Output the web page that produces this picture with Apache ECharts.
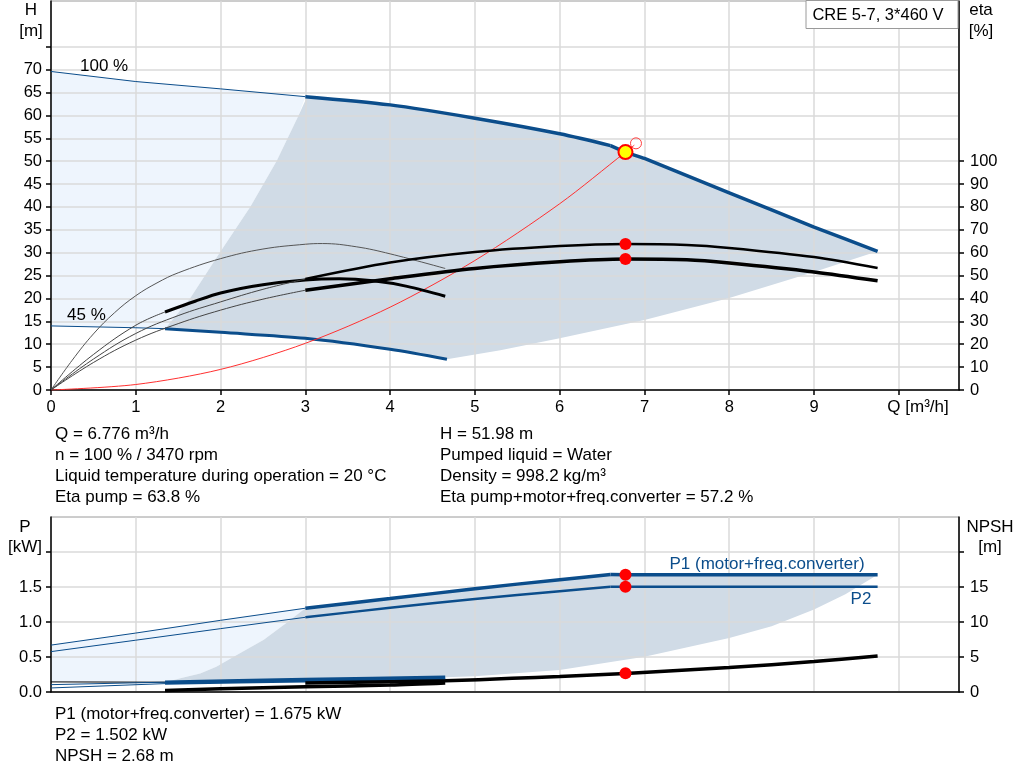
<!DOCTYPE html>
<html><head><meta charset="utf-8">
<script src="https://cdn.jsdelivr.net/npm/echarts@6.0.0/dist/echarts.min.js"></script>
<style>html,body{margin:0;padding:0;background:#fff}#c{width:1024px;height:781px}</style>
</head><body><div id="c"></div>
<script>
// ===== DATA (Q in m³/h) =====
const qTicks = [0,1,2,3,4,5,6,7,8,9];
// Head [m]
const h100Ext = [[0,69.6],[1,67.4],[2,65.8],[3,64.1]];
const h100 = [[3,64.1],[4,62.3],[5,59.4],[6,56.0],[6.6,53.4]];
const h100Lim = [[6.6,53.4],[6.776,51.98],[7,50.6],[8,43.1],[9,35.6],[9.75,30.3]];
const h45Ext = [[0,14.0],[1,13.6],[1.345,13.4]];
const h45 = [[1.345,13.4],[2,12.6],[3,11.3],[4,8.9],[4.67,6.7]];
const hAreaLeft = [[1.345,13.4],[1.64,20],[1.99,30],[2.35,40],[2.66,50],[2.92,60],[3.02,64.1]];
const hAreaLow = [[4.67,6.7],[5.3,8.7],[6,11.3],[7,15.3],[8,20.1],[9,25.8],[9.75,30.3]];
const system = [[0,0],[1,1.2],[2,4.5],[3,10.2],[4,18.1],[5,28.3],[6,40.7],[6.776,51.98],[6.88,53.5]];
// Efficiency [%]
const etaPump100Ext = [[0,0],[0.5,13.5],[1,24.7],[1.5,32.5],[2,38.5],[2.5,44],[3,48.5]];
const etaPump100 = [[3,48.5],[4,55.7],[5,60.3],[6,62.9],[6.776,63.8],[7.5,63.4],[8,62.1],[9,58.1],[9.75,53.3]];
const etaTot100Ext = [[0,0],[0.5,12],[1,21.8],[1.5,29],[2,34.9],[2.5,39.7],[3,43.6]];
const etaTot100 = [[3,43.6],[4,48.6],[5,53.1],[6,56.0],[6.776,57.2],[7.5,56.9],[8,55.5],[9,51.6],[9.75,47.7]];
const etaPump45 = [[0,0],[0.25,13],[0.5,24.5],[0.75,33.8],[1,41.2],[1.25,46.8],[1.5,51.2],[2,57.4],[2.5,61.6],[3,63.7],[3.2,64.0],[3.6,62.6],[4,59.5],[4.65,53.1]];
const etaTot45Ext = [[0,0],[0.5,15.5],[1,28.3],[1.345,34.1]];
const etaTot45 = [[1.345,34.1],[1.7,38.8],[2,42.4],[2.5,46.0],[3,48.1],[3.4,48.6],[3.8,47.7],[4.2,45.3],[4.65,41.0]];
// Power [kW]
const p1Ext = [[0,0.67],[1,0.842],[2,1.024],[3,1.197]];
const p1 = [[3,1.197],[4,1.335],[5,1.475],[6,1.605],[6.6,1.677]];
const p1Lim = [[6.6,1.677],[6.776,1.675],[9.75,1.675]];
const p2Ext = [[0,0.577],[1,0.74],[2,0.905],[3,1.067]];
const p2 = [[3,1.067],[4,1.203],[5,1.33],[6,1.44],[6.6,1.502]];
const p2Lim = [[6.6,1.502],[6.776,1.502],[9.75,1.502]];
const p1_45Ext = [[0,0.105],[1.345,0.14]];
const p1_45 = [[1.345,0.14],[3,0.178],[4.65,0.21]];
const p2_45Ext = [[0,0.058],[1.345,0.12]];
const p2_45 = [[1.345,0.12],[3,0.155],[4.65,0.185]];
const pLightBase = [[0,0.144],[1.345,0.14]];
const pAreaLeft = [[1.345,0.14],[1.55,0.205],[1.76,0.265],[1.95,0.36],[2.15,0.5],[2.51,0.745],[2.78,0.99],[3,1.197]];
const pAreaLow = [[4.65,0.21],[5,0.225],[6,0.313],[7,0.505],[8,0.77],[8.5,0.94],[9,1.178],[9.37,1.395],[9.75,1.675]];
// NPSH [m]
const npsh100 = [[3,1.3],[4,1.48],[4.65,1.6],[5.44,1.95],[6,2.2],[6.776,2.65],[8,3.5],[9,4.35],[9.75,5.15]];
const npsh45 = [[1.345,0.23],[2,0.45],[3,0.75],[4,1.0],[4.65,1.3]];
// Duty point
const duty = {q:6.776, h:51.98, etaPump:63.8, etaTot:57.2, p1:1.675, p2:1.502, npsh:2.68};
const dutyOpen = [[6.9,53.9]];

// ===== STYLE =====
const BLUE = '#0b4d8b', DARK = '#d0dbe6', LIGHT = '#eef5fd', GRIDC = '#dadada';
const FONT = 'Liberation Sans, Arial, sans-serif';
const FS = 17, FSA = 16.5;

const rev = a => a.slice().reverse();
const topLight = [...h100Ext, ...rev(hAreaLeft).slice(1), ...rev(h45Ext).slice(1)];
const topDark = [...hAreaLeft, ...h100.slice(1), ...h100Lim.slice(1), ...rev(hAreaLow).slice(1), ...rev(h45).slice(1)];
const botLight = [...p1Ext, ...rev(pAreaLeft).slice(1), ...rev(pLightBase).slice(1)];
const botDark = [...pAreaLeft, ...p1.slice(1), ...p1Lim.slice(1), ...rev(pAreaLow).slice(1), ...rev(p1_45).slice(1)];

function poly(pts, xi, yi, color) {
  return {
    type: 'custom', xAxisIndex: xi, yAxisIndex: yi, z: 0, silent: true, animation: false,
    data: pts, encode: {x: 0, y: 1},
    renderItem: function (params, api) {
      if (params.dataIndex !== 0) return null;
      return { type: 'polygon', shape: { points: pts.map(p => api.coord(p)) }, style: { fill: color } };
    }
  };
}
function line(data, xi, yi, color, width, smooth) {
  return { type: 'line', data, xAxisIndex: xi, yAxisIndex: yi, showSymbol: false, symbol: 'none',
    smooth: smooth === undefined ? 0.3 : smooth, z: 3, silent: true, animation: false,
    lineStyle: { color, width } };
}
function dots(data, xi, yi, size, fill, border, bw) {
  return { type: 'scatter', data, xAxisIndex: xi, yAxisIndex: yi, symbolSize: size, z: 5, silent: true, animation: false,
    itemStyle: { color: fill, borderColor: border, borderWidth: bw, opacity: 1 } };
}

const lbl = {fontFamily: FONT, fontSize: FSA, color: '#000'};
function xAx(gi, showLabels) {
  return { type: 'value', gridIndex: gi, min: 0, max: 10.71, interval: 1, z: 1,
    axisLine: { show: true, onZero: false, lineStyle: { color: '#000', width: 1.5 } },
    axisTick: { show: showLabels, length: 5, lineStyle: { color: '#000', width: 1.5 }, customValues: [0,1,2,3,4,5,6,7,8,9,10] },
    axisLabel: { show: showLabels, ...lbl, margin: 9, formatter: v => qTicks.includes(v) ? String(v) : '' },
    splitLine: { show: true, lineStyle: { color: GRIDC, width: 1.5 } } };
}
function yAx(gi, pos, max, interval, labelMax, tickMax, fmt, split) {
  const ticks = [];
  for (let v = 0; v <= tickMax + 1e-9; v += interval) ticks.push(+v.toFixed(4));
  return { type: 'value', gridIndex: gi, position: pos, min: 0, max, interval, z: 1,
    axisLine: { show: true, onZero: false, lineStyle: { color: '#000', width: 1.5 } },
    axisTick: { show: true, length: 5, lineStyle: { color: '#000', width: 1.5 }, customValues: ticks },
    axisLabel: { ...lbl, margin: pos === 'left' ? 9 : 11, formatter: v => v <= labelMax + 1e-9 ? fmt(v) : '' },
    splitLine: { show: split, lineStyle: { color: GRIDC, width: 1.5 } } };
}

const txt = (x, y, s, extra) => ({ type: 'text', x, y, z: 100, style: Object.assign({ text: s, fontFamily: FONT, fontSize: FS, fill: '#000', verticalAlign: 'middle' }, extra || {}) });

const option = {
  backgroundColor: '#fff',
  animation: false,
  grid: [
    { left: 51, top: 1, width: 908, height: 389, show: true, borderColor: '#9a9a9a', borderWidth: 1, backgroundColor: 'transparent' },
    { left: 51, top: 517, width: 908, height: 175, show: true, borderColor: '#9a9a9a', borderWidth: 1, backgroundColor: 'transparent' }
  ],
  xAxis: [ xAx(0, true), xAx(1, false) ],
  yAxis: [
    yAx(0, 'left', 85, 5, 70, 75, v => String(v), true),
    yAx(0, 'right', 170, 10, 100, 100, v => String(v), false),
    yAx(1, 'left', 2.5, 0.5, 1.5, 2.0, v => v.toFixed(1), true),
    yAx(1, 'right', 25, 5, 15, 20, v => String(v), false)
  ],
  series: [
    poly(topLight, 0, 0, LIGHT),
    poly(topDark, 0, 0, DARK),
    poly(botLight, 1, 2, LIGHT),
    poly(botDark, 1, 2, DARK),
    // head
    line(h100Ext, 0, 0, BLUE, 1, 0),
    line(h100, 0, 0, BLUE, 3.5),
    line(h100Lim, 0, 0, BLUE, 3.5, 0.15),
    line(h45Ext, 0, 0, BLUE, 1, 0),
    line(h45, 0, 0, BLUE, 3),
    line(system, 0, 0, '#ff3030', 1),
    // efficiency
    line(etaPump45, 0, 1, '#555', 1, 0.4),
    line(etaTot45Ext, 0, 1, '#444', 1, 0.4),
    line(etaTot45, 0, 1, '#000', 3),
    line(etaPump100Ext, 0, 1, '#444', 1, 0.4),
    line(etaPump100, 0, 1, '#000', 2.5),
    line(etaTot100Ext, 0, 1, '#444', 1, 0.4),
    line(etaTot100, 0, 1, '#000', 3.5),
    // power
    line(p1Ext, 1, 2, BLUE, 1, 0),
    line(p1, 1, 2, BLUE, 3.5),
    line(p1Lim, 1, 2, BLUE, 3.5, 0),
    line(p2Ext, 1, 2, BLUE, 1, 0),
    line(p2, 1, 2, BLUE, 2.5),
    line(p2Lim, 1, 2, BLUE, 2.5, 0),
    line(pLightBase, 1, 2, '#000', 1, 0),
    line(p1_45Ext, 1, 2, BLUE, 1, 0),
    line(p1_45, 1, 2, BLUE, 3.5, 0.2),
    line(p2_45Ext, 1, 2, BLUE, 1, 0),
    line(p2_45, 1, 2, BLUE, 2.5, 0.2),
    // NPSH
    line(npsh100, 1, 3, '#000', 3.5),
    line(npsh45, 1, 3, '#000', 3.5),
    // duty points
    dots(dutyOpen, 0, 0, 11, 'rgba(255,255,255,0)', '#ff4040', 1),
    dots([[duty.q, duty.h]], 0, 0, 14, '#ffff00', '#ff0000', 2),
    dots([[duty.q, duty.etaPump],[duty.q, duty.etaTot]], 0, 1, 12, '#ff0000', '#ff0000', 0),
    dots([[duty.q, duty.p1],[duty.q, duty.p2]], 1, 2, 12, '#ff0000', '#ff0000', 0),
    dots([[duty.q, duty.npsh]], 1, 3, 12, '#ff0000', '#ff0000', 0)
  ],
  graphic: [
    txt(31, 10, 'H', {align: 'center'}),
    txt(31, 31, '[m]', {align: 'center'}),
    txt(981, 10, 'eta', {align: 'center'}),
    txt(981, 31, '[%]', {align: 'center'}),
    { type: 'rect', shape: { x: 806, y: 0.5, width: 152, height: 28 }, style: { fill: '#fff', stroke: '#9a9a9a', lineWidth: 1 }, z: 90 },
    txt(878, 15, 'CRE 5-7, 3*460 V', {align: 'center', fontSize: 16.5}),
    txt(80, 66, '100 %'),
    txt(67, 315, '45 %'),
    txt(918, 407, 'Q [m³/h]', {align: 'center'}),
    txt(55, 434, 'Q = 6.776 m³/h'),
    txt(55, 455, 'n = 100 % / 3470 rpm'),
    txt(55, 476, 'Liquid temperature during operation = 20 °C'),
    txt(55, 497, 'Eta pump = 63.8 %'),
    txt(440, 434, 'H = 51.98 m'),
    txt(440, 455, 'Pumped liquid = Water'),
    txt(440, 476, 'Density = 998.2 kg/m³'),
    txt(440, 497, 'Eta pump+motor+freq.converter = 57.2 %'),
    txt(25, 527, 'P', {align: 'center'}),
    txt(25, 547, '[kW]', {align: 'center'}),
    txt(990, 527, 'NPSH', {align: 'center'}),
    txt(990, 547, '[m]', {align: 'center'}),
    txt(767, 564, 'P1 (motor+freq.converter)', {align: 'center', fill: BLUE}),
    txt(861, 599, 'P2', {align: 'center', fill: BLUE}),
    txt(55, 714, 'P1 (motor+freq.converter) = 1.675 kW'),
    txt(55, 735, 'P2 = 1.502 kW'),
    txt(55, 756, 'NPSH = 2.68 m')
  ]
};
const chart = echarts.init(document.getElementById('c'), null, { renderer: 'canvas' });
chart.setOption(option);
</script></body></html>
